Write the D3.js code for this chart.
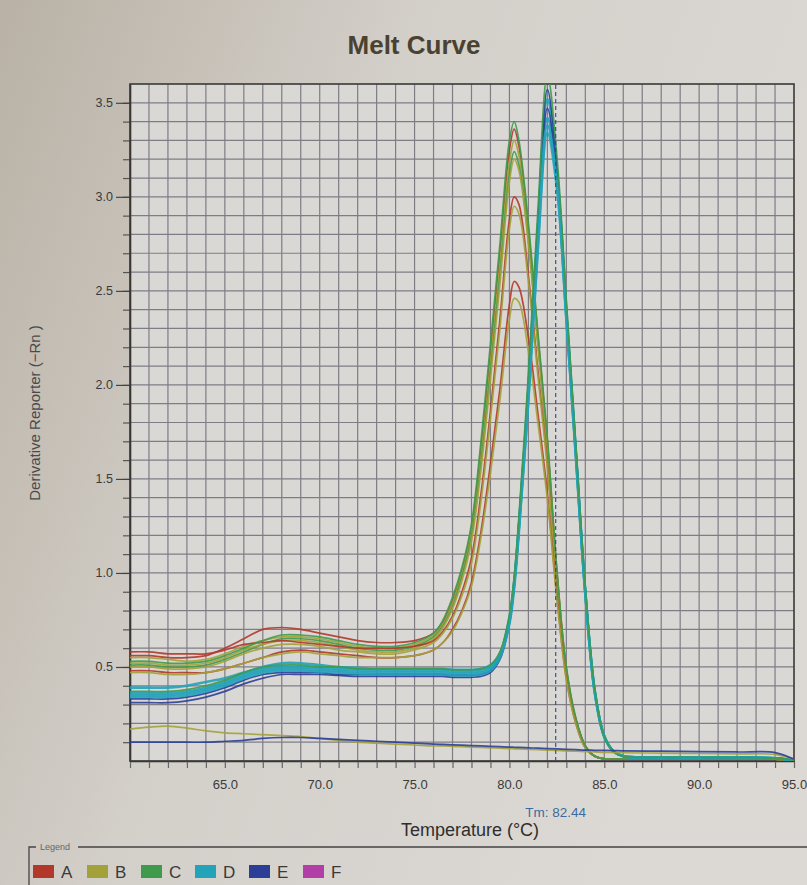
<!DOCTYPE html>
<html>
<head>
<meta charset="utf-8">
<script src="https://cdn.jsdelivr.net/npm/d3@7"></script>
<style>
  body { margin: 0; background: #d3cfc8; overflow: hidden; }
  svg { display: block; font-family: "Liberation Sans", Arial, sans-serif; }
</style>
</head>
<body>
<script>
// temperature steps (°C) shared by every well
var temps = [60, 61, 62, 63, 64, 65, 66, 67, 68, 69, 70, 71, 72, 73, 74, 75,
             76, 76.5, 77, 77.5, 78, 78.5, 79, 79.5, 80, 80.25, 80.5, 81, 81.5, 82, 82.5,
             83, 83.5, 84, 84.5, 85, 85.5, 86, 88, 90, 92, 94, 95];

// legend groups
var groups = ["A", "B", "C", "D", "E", "F"];
var groupColors = ["#b2382c", "#a3a23a", "#3f9a4c", "#23a3ba", "#2b3f99", "#b23fa8"];

// product 1 wells (peak ~80.3)
var wellC1 = [0.53,0.53,0.52,0.52,0.53,0.56,0.60,0.64,0.67,0.67,0.66,0.64,0.62,0.61,0.61,0.63,
              0.68,0.75,0.87,1.03,1.26,1.70,2.22,2.75,3.30,3.40,3.30,2.86,2.28,1.72,1.02,0.50,0.23,0.08,0.025,0.012,0.01,0.01,0.01,0.01,0.01,0.01,0.005];
var wellA1 = [0.56,0.56,0.55,0.55,0.56,0.60,0.65,0.70,0.71,0.70,0.68,0.66,0.64,0.63,0.63,0.64,
              0.68,0.74,0.85,1.01,1.24,1.66,2.17,2.70,3.25,3.36,3.27,2.83,2.26,1.70,1.01,0.49,0.22,0.08,0.025,0.012,0.01,0.01,0.01,0.01,0.01,0.01,0.005];
var wellB1 = [0.55,0.55,0.54,0.53,0.54,0.57,0.61,0.64,0.66,0.66,0.65,0.63,0.61,0.60,0.60,0.62,
              0.67,0.73,0.84,1.00,1.22,1.62,2.12,2.64,3.18,3.30,3.22,2.80,2.24,1.68,1.00,0.49,0.22,0.08,0.025,0.012,0.01,0.01,0.01,0.01,0.01,0.01,0.005];
var wellC2 = [0.51,0.51,0.50,0.50,0.51,0.54,0.58,0.62,0.65,0.65,0.64,0.62,0.60,0.59,0.59,0.61,
              0.66,0.72,0.82,0.98,1.19,1.58,2.07,2.58,3.12,3.24,3.17,2.77,2.22,1.67,0.99,0.48,0.22,0.08,0.025,0.012,0.01,0.01,0.01,0.01,0.01,0.01,0.005];
var wellB2 = [0.52,0.52,0.51,0.51,0.52,0.55,0.59,0.62,0.64,0.64,0.63,0.61,0.59,0.58,0.58,0.60,
              0.65,0.71,0.81,0.96,1.17,1.55,2.03,2.54,3.08,3.20,3.14,2.75,2.21,1.66,0.99,0.48,0.22,0.08,0.025,0.012,0.01,0.01,0.01,0.01,0.01,0.01,0.005];
var wellA2 = [0.58,0.58,0.57,0.57,0.57,0.59,0.62,0.63,0.64,0.63,0.62,0.61,0.60,0.60,0.60,0.61,
              0.64,0.69,0.77,0.90,1.08,1.42,1.86,2.35,2.88,3.00,2.96,2.58,2.08,1.58,0.95,0.47,0.22,0.08,0.025,0.012,0.01,0.01,0.01,0.01,0.01,0.01,0.005];
var wellB3 = [0.50,0.50,0.49,0.49,0.50,0.53,0.57,0.60,0.62,0.62,0.61,0.59,0.58,0.57,0.57,0.59,
              0.63,0.68,0.76,0.88,1.05,1.38,1.82,2.30,2.83,2.95,2.91,2.55,2.05,1.56,0.94,0.47,0.21,0.08,0.025,0.012,0.01,0.01,0.01,0.01,0.01,0.01,0.005];
var wellA3 = [0.48,0.48,0.47,0.47,0.47,0.49,0.52,0.55,0.58,0.59,0.58,0.57,0.56,0.55,0.55,0.56,
              0.59,0.63,0.70,0.80,0.95,1.22,1.58,1.98,2.43,2.55,2.52,2.25,1.85,1.42,0.88,0.44,0.20,0.07,0.025,0.012,0.01,0.01,0.01,0.01,0.01,0.01,0.005];
var wellB4 = [0.47,0.47,0.46,0.46,0.47,0.49,0.52,0.55,0.57,0.58,0.57,0.56,0.55,0.55,0.55,0.56,
              0.59,0.63,0.69,0.79,0.93,1.19,1.53,1.92,2.35,2.46,2.44,2.18,1.80,1.39,0.86,0.43,0.20,0.07,0.025,0.012,0.01,0.01,0.01,0.01,0.01,0.01,0.005];

// product 2 wells (peak ~82.0)
var wellC3 = [0.37,0.37,0.37,0.38,0.40,0.43,0.47,0.50,0.51,0.51,0.50,0.50,0.49,0.49,0.49,0.49,
              0.49,0.49,0.485,0.485,0.485,0.49,0.51,0.58,0.78,0.98,1.30,2.06,2.93,3.65,3.22,2.45,1.68,0.92,0.38,0.13,0.05,0.025,0.02,0.02,0.018,0.015,0.005];
var wellE1 = [0.33,0.33,0.33,0.34,0.36,0.39,0.43,0.46,0.47,0.47,0.47,0.46,0.46,0.46,0.46,0.46,
              0.46,0.46,0.455,0.455,0.455,0.46,0.48,0.55,0.75,0.95,1.26,2.01,2.87,3.57,3.17,2.41,1.66,0.91,0.37,0.13,0.05,0.025,0.02,0.02,0.018,0.015,0.005];
var wellD1 = [0.35,0.35,0.35,0.36,0.38,0.41,0.45,0.48,0.49,0.49,0.485,0.48,0.475,0.47,0.47,0.47,
              0.47,0.47,0.465,0.465,0.465,0.47,0.49,0.56,0.75,0.95,1.25,1.99,2.84,3.52,3.14,2.40,1.65,0.90,0.37,0.13,0.05,0.025,0.02,0.02,0.018,0.015,0.005];
var wellE2 = [0.31,0.31,0.31,0.32,0.34,0.37,0.41,0.44,0.46,0.46,0.46,0.455,0.45,0.45,0.45,0.45,
              0.45,0.45,0.445,0.445,0.445,0.45,0.47,0.54,0.73,0.93,1.23,1.97,2.81,3.47,3.12,2.38,1.64,0.90,0.37,0.13,0.05,0.025,0.02,0.02,0.018,0.015,0.005];
var wellD2 = [0.39,0.39,0.39,0.40,0.42,0.44,0.47,0.50,0.52,0.52,0.51,0.50,0.495,0.49,0.49,0.49,
              0.49,0.49,0.485,0.485,0.485,0.49,0.51,0.57,0.76,0.95,1.25,1.96,2.78,3.42,3.10,2.37,1.64,0.90,0.37,0.13,0.05,0.025,0.02,0.02,0.018,0.015,0.005];
var wellD3 = [0.34,0.34,0.34,0.35,0.37,0.40,0.44,0.47,0.48,0.48,0.475,0.47,0.465,0.46,0.46,0.46,
              0.46,0.46,0.455,0.455,0.455,0.46,0.48,0.55,0.73,0.92,1.22,1.93,2.75,3.38,3.08,2.36,1.63,0.89,0.37,0.13,0.05,0.025,0.02,0.02,0.018,0.015,0.005];
var wellD4 = [0.36,0.36,0.36,0.37,0.39,0.42,0.46,0.49,0.50,0.50,0.495,0.49,0.485,0.48,0.48,0.48,
              0.48,0.48,0.475,0.475,0.475,0.48,0.50,0.57,0.75,0.94,1.24,1.92,2.72,3.34,3.05,2.35,1.62,0.89,0.36,0.13,0.05,0.025,0.02,0.02,0.018,0.015,0.005];

// no-template controls
var wellB5 = [0.17,0.18,0.185,0.175,0.16,0.15,0.145,0.14,0.135,0.13,0.12,0.11,0.10,0.095,0.09,0.085,
              0.08,0.08,0.078,0.076,0.074,0.072,0.07,0.068,0.066,0.065,0.064,0.062,0.06,0.058,0.056,0.054,0.052,0.05,0.048,0.046,0.045,0.044,0.042,0.04,0.038,0.035,0.01];
var wellE3 = [0.10,0.10,0.10,0.10,0.10,0.105,0.11,0.12,0.125,0.125,0.12,0.115,0.11,0.105,0.10,0.095,
              0.09,0.088,0.086,0.084,0.082,0.08,0.078,0.076,0.074,0.073,0.072,0.07,0.068,0.066,0.064,0.062,0.06,0.058,0.057,0.056,0.055,0.054,0.052,0.05,0.048,0.045,0.01];

var wells = [
  {group: "A", values: wellA1}, {group: "B", values: wellB1}, {group: "C", values: wellC2},
  {group: "B", values: wellB2}, {group: "A", values: wellA2}, {group: "B", values: wellB3},
  {group: "A", values: wellA3}, {group: "B", values: wellB4}, {group: "C", values: wellC1},
  {group: "D", values: wellD1}, {group: "E", values: wellE1}, {group: "D", values: wellD2},
  {group: "E", values: wellE2}, {group: "D", values: wellD3}, {group: "D", values: wellD4},
  {group: "C", values: wellC3},
  {group: "B", values: wellB5}, {group: "E", values: wellE3}
];

var tm = 82.44;
var xLabels = [65, 70, 75, 80, 85, 90, 95];
var yLabels = [0.5, 1.0, 1.5, 2.0, 2.5, 3.0, 3.5];

// set the dimensions (plot box inside the 807x885 page)
var W = 807, H = 885;
var pLeft = 130, pRight = 794, pTop = 84, pBottom = 761;

var x = d3.scaleLinear().domain([60, 95]).range([pLeft, pRight]);
var y = d3.scaleLinear().domain([0, 3.6]).range([pBottom, pTop]);
var color = d3.scaleOrdinal().domain(groups).range(groupColors);

var svg = d3.select("body").append("svg")
    .attr("width", W)
    .attr("height", H);

// photo-ish background
var defs = svg.append("defs");
var grad = defs.append("linearGradient").attr("id", "bg")
    .attr("x1", 0).attr("y1", 0).attr("x2", 1).attr("y2", 0.4);
grad.append("stop").attr("offset", 0).attr("stop-color", "#b9b1a5");
grad.append("stop").attr("offset", 0.45).attr("stop-color", "#d3cfc9");
grad.append("stop").attr("offset", 1).attr("stop-color", "#dcd9d5");
defs.append("clipPath").attr("id", "plotclip")
  .append("rect")
    .attr("x", pLeft).attr("y", pTop)
    .attr("width", pRight - pLeft).attr("height", pBottom - pTop);

svg.append("rect").attr("width", W).attr("height", H).attr("fill", "url(#bg)");
svg.append("rect")
    .attr("x", pLeft).attr("y", pTop)
    .attr("width", pRight - pLeft).attr("height", pBottom - pTop)
    .attr("fill", "#dad8d5");

// title
svg.append("text")
    .attr("x", 414).attr("y", 54)
    .attr("text-anchor", "middle")
    .style("font-family", "'Liberation Sans Narrow', 'Liberation Sans', Arial, sans-serif")
    .style("font-weight", "bold")
    .style("font-size", "26px")
    .style("fill", "#4a4231")
    .text("Melt Curve");

// grid
var yGrid = d3.range(1, 36).map(function(i) { return i / 10; });

svg.append("g").selectAll("line")
    .data(d3.range(61, 95))
  .enter().append("line")
    .attr("x1", function(d) { return x(d); })
    .attr("x2", function(d) { return x(d); })
    .attr("y1", pTop).attr("y2", pBottom)
    .attr("stroke", "#7f7c86")
    .attr("stroke-width", 1.2);

svg.append("g").selectAll("line")
    .data(yGrid)
  .enter().append("line")
    .attr("y1", function(d) { return y(d); })
    .attr("y2", function(d) { return y(d); })
    .attr("x1", pLeft).attr("x2", pRight)
    .attr("stroke", "#7f7c86")
    .attr("stroke-width", 1.2);

// x axis: minor ticks every degree, labels every 5
var xAxisG = svg.append("g")
    .attr("transform", "translate(0," + pBottom + ")")
    .call(d3.axisBottom(x)
      .tickValues(d3.range(60, 96))
      .tickSizeInner(7).tickSizeOuter(0)
      .tickPadding(12)
      .tickFormat(function(d) { return xLabels.indexOf(d) >= 0 ? d.toFixed(1) : ""; }));
xAxisG.select(".domain").attr("stroke", "#333").attr("stroke-width", 1.6);
xAxisG.selectAll(".tick line").attr("stroke", "#666").attr("stroke-width", 1.2);
xAxisG.selectAll(".tick text")
    .style("font-size", "13px").style("fill", "#3a3a3a");

// y axis
var yMinor = svg.append("g")
    .attr("transform", "translate(" + pLeft + ",0)")
    .call(d3.axisLeft(y)
      .tickValues(yGrid)
      .tickSizeInner(7).tickSizeOuter(0)
      .tickFormat(""));
yMinor.select(".domain").attr("stroke", "#333").attr("stroke-width", 1.6);
yMinor.selectAll(".tick line").attr("stroke", "#555").attr("stroke-width", 1.2);

var yMajor = svg.append("g")
    .attr("transform", "translate(" + pLeft + ",0)")
    .call(d3.axisLeft(y)
      .tickValues(yLabels)
      .tickSizeInner(14).tickSizeOuter(0)
      .tickPadding(3)
      .tickFormat(d3.format(".1f")));
yMajor.select(".domain").remove();
yMajor.selectAll(".tick line").attr("stroke", "#444").attr("stroke-width", 1.2);
yMajor.selectAll(".tick text")
    .style("font-size", "12.5px").style("fill", "#3a3a3a");

// plot frame
svg.append("rect")
    .attr("x", pLeft).attr("y", pTop)
    .attr("width", pRight - pLeft).attr("height", pBottom - pTop)
    .attr("fill", "none")
    .attr("stroke", "#3a3838")
    .attr("stroke-width", 1.6);

// melt curves
var line = d3.line()
    .x(function(d, i) { return x(temps[i]); })
    .y(function(d) { return y(d); })
    .curve(d3.curveCatmullRom.alpha(0.5));

svg.append("g")
    .attr("clip-path", "url(#plotclip)")
  .selectAll("path")
    .data(wells)
  .enter().append("path")
    .attr("d", function(d) { return line(d.values); })
    .attr("fill", "none")
    .attr("stroke", function(d) { return color(d.group); })
    .attr("stroke-opacity", 0.9)
    .attr("stroke-width", function(d) { return d.group === "D" ? 2.6 : 1.7; });

// Tm marker
svg.append("line")
    .attr("x1", x(tm)).attr("x2", x(tm))
    .attr("y1", pBottom).attr("y2", pTop)
    .attr("stroke", "#2a4a88")
    .attr("stroke-width", 1.1)
    .attr("stroke-dasharray", "4,3");

svg.append("text")
    .attr("x", x(tm)).attr("y", 817)
    .attr("text-anchor", "middle")
    .style("font-size", "13.5px")
    .style("fill", "#3d6a9e")
    .text("Tm: " + tm.toFixed(2));

// axis labels
svg.append("text")
    .attr("x", 470).attr("y", 836)
    .attr("text-anchor", "middle")
    .style("font-size", "18px")
    .style("fill", "#2e2e2e")
    .text("Temperature (°C)");

svg.append("text")
    .attr("transform", "translate(40,413) rotate(-90)")
    .attr("text-anchor", "middle")
    .style("font-size", "15px")
    .style("fill", "#4a4a4a")
    .text("Derivative Reporter (−Rn )");

// legend
svg.append("path")
    .attr("d", "M29,885V847H36M78,847H807")
    .attr("fill", "none")
    .attr("stroke", "#444")
    .attr("stroke-width", 1.3);
svg.append("text")
    .attr("x", 40).attr("y", 850)
    .style("font-size", "9px")
    .style("fill", "#666")
    .text("Legend");

var leg = svg.append("g").selectAll("g")
    .data(groups)
  .enter().append("g")
    .attr("transform", function(d, i) { return "translate(" + (33 + i * 54) + ",865)"; });
leg.append("rect")
    .attr("width", 21).attr("height", 13)
    .attr("fill", function(d) { return color(d); });
leg.append("text")
    .attr("x", 28).attr("y", 13)
    .style("font-size", "17px")
    .style("fill", "#3a3a3a")
    .text(function(d) { return d; });
</script>
</body>
</html>
